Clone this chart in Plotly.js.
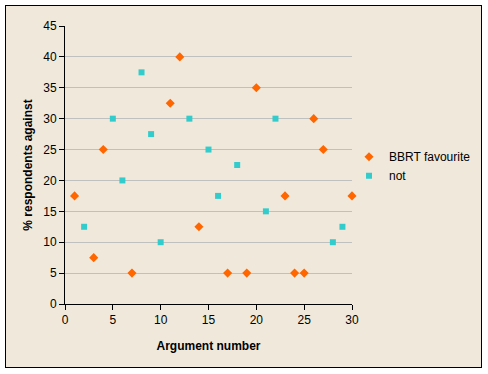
<!DOCTYPE html>
<html>
<head>
<meta charset="utf-8">
<script src="https://cdn.plot.ly/plotly-3.0.1.min.js"></script>
<style>
html,body{margin:0;padding:0;background:#fff;}
#wrap{position:relative;width:488px;height:374px;}
#frame{position:absolute;left:5px;top:5px;width:475px;height:361px;border:1px solid #000;background:#F0E9DB;}
#chart{position:absolute;left:0;top:0;width:488px;height:374px;}
</style>
</head>
<body>
<div id="wrap"><div id="frame"></div><div id="chart"></div></div>
<script>
const favX = [1, 3, 4, 7, 11, 12, 14, 17, 19, 20, 23, 24, 25, 26, 27, 30];
const favY = [17.5, 7.5, 25, 5, 32.5, 40, 12.5, 5, 5, 35, 17.5, 5, 5, 30, 25, 17.5];
const notX = [2, 5, 6, 8, 9, 10, 13, 15, 16, 18, 21, 22, 28, 29];
const notY = [12.5, 30, 20, 37.5, 27.5, 10, 30, 25, 17.5, 22.5, 15, 30, 10, 12.5];
const seriesNames = ["BBRT favourite", "not"];

const data = [
  {x: favX, y: favY, name: seriesNames[0], type: 'scatter', mode: 'markers', cliponaxis: false,
   marker: {symbol: 'diamond', size: 7, color: '#FF6600'}},
  {x: notX, y: notY, name: seriesNames[1], type: 'scatter', mode: 'markers', cliponaxis: false,
   marker: {symbol: 'square', size: 6, color: '#33CCCC'}}
];

const layout = {
  width: 488, height: 374,
  margin: {l: 65, r: 134, t: 26, b: 70},
  paper_bgcolor: 'rgba(0,0,0,0)',
  plot_bgcolor: 'rgba(0,0,0,0)',
  font: {family: 'Liberation Sans, Arial, sans-serif', size: 12, color: '#000'},
  showlegend: true,
  legend: {x: 0.9896, xanchor: 'left', y: 0.582, yanchor: 'top',
           bgcolor: 'rgba(0,0,0,0)', font: {size: 12}, tracegroupgap: 0},
  xaxis: {range: [0, 30], dtick: 5, tick0: 0, showgrid: false, zeroline: false,
          showline: true, linecolor: '#000', linewidth: 1,
          ticks: 'outside', ticklen: 5, tickcolor: '#000',
          tickfont: {size: 12},
          title: {text: '<b>Argument number</b>', font: {size: 12}, standoff: 15}},
  yaxis: {range: [0, 45], dtick: 5, tick0: 0, showgrid: true, gridcolor: '#C0C0C0',
          zeroline: false, showline: true, linecolor: '#000', linewidth: 1,
          ticks: 'outside', ticklen: 5, tickcolor: '#000',
          tickfont: {size: 12},
          title: {text: '<b>% respondents against</b>', font: {size: 12}, standoff: 8}}
};

Plotly.newPlot('chart', data, layout, {displayModeBar: false, staticPlot: true});
</script>
</body>
</html>
